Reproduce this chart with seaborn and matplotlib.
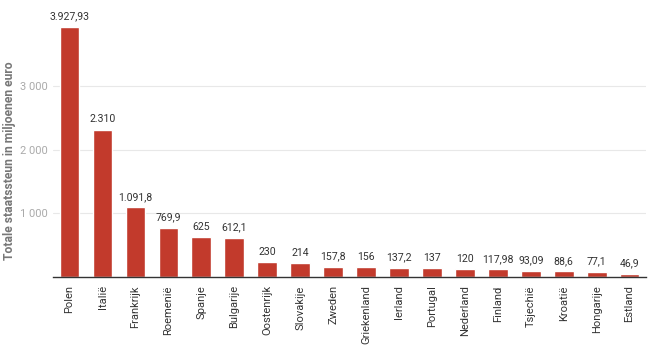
import matplotlib
matplotlib.use('Agg')
import matplotlib.pyplot as plt
import seaborn as sns
import pandas as pd

countries = ['Polen', 'Italië', 'Frankrijk', 'Roemenië', 'Spanje', 'Bulgarije',
             'Oostenrijk', 'Slovakije', 'Zweden', 'Griekenland', 'Ierland', 'Portugal',
             'Nederland', 'Finland', 'Tsjechië', 'Kroatië', 'Hongarije', 'Estland']
values = [3927.93, 2310, 1091.8, 769.9, 625, 612.1,
          230, 214, 157.8, 156, 137.2, 137,
          120, 117.98, 93.09, 88.6, 77.1, 46.9]
yticks = [1000, 2000, 3000]
ytick_labels = ['1 000', '2 000', '3 000']

df = pd.DataFrame({'land': countries, 'steun': values})

sns.set_style('white')
plt.rcParams['font.family'] = ['Roboto', 'DejaVu Sans']

fig = plt.figure(figsize=(6.48, 3.64), dpi=100)
ax = fig.add_axes([0.082, 0.239, 0.915, 0.761])

sns.barplot(data=df, x='land', y='steun', color='#c23a2c', width=0.6,
            saturation=1, ax=ax)

labels = [f'{v:,g}'.replace(',', ' ').replace('.', ',').replace(' ', '.') for v in values]
ax.bar_label(ax.containers[0], labels=labels, padding=4, fontsize=7.6, color='#333333')

ax.set_ylim(0, 4350)
ax.set_xlim(-0.5, len(countries) - 0.5)
ax.set_yticks(yticks)
ax.set_yticklabels(ytick_labels)
ax.yaxis.grid(True, color='#e8e8e8', linewidth=0.8)
ax.set_axisbelow(True)
ax.tick_params(axis='y', labelsize=8, colors='#aaaaaa', length=0, pad=4)
ax.tick_params(axis='x', labelsize=8, labelcolor='#333333', length=0, pad=6, rotation=90)

for s in ['top', 'right', 'left']:
    ax.spines[s].set_visible(False)
ax.spines['bottom'].set_color('#333333')
ax.spines['bottom'].set_linewidth(1)

ax.set_xlabel('')
ax.set_ylabel('Totale staatssteun in miljoenen euro', fontsize=8.7, fontweight='bold',
              color='#777777')
ax.yaxis.set_label_coords(-0.062, 0.42)

fig.savefig('out.png', dpi=100)
